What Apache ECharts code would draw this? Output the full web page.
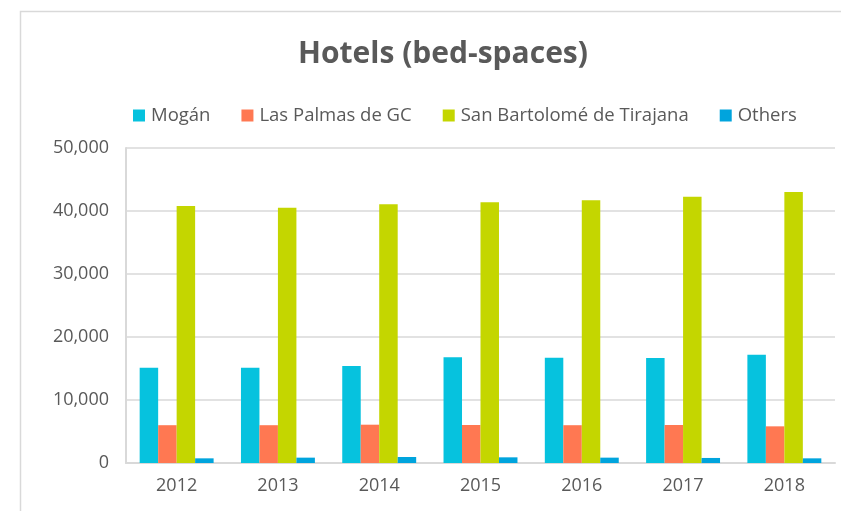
<!DOCTYPE html>
<html>
<head>
<meta charset="utf-8">
<script src="https://cdn.jsdelivr.net/npm/echarts@6/dist/echarts.min.js"></script>
<style>html,body{margin:0;padding:0;background:#fff}#c{width:841px;height:511px}</style>
</head>
<body>
<div id="c"></div>
<script>
const categories = ['2012','2013','2014','2015','2016','2017','2018'];
const mogan = [15100, 15100, 15400, 16780, 16720, 16670, 17200];
const lasPalmas = [6000, 6000, 6080, 6030, 6000, 6030, 5820];
const sanBartolome = [40800, 40500, 41070, 41390, 41700, 42270, 43000];
const others = [740, 850, 950, 900, 850, 800, 740];
const seriesNames = ['Mogán', 'Las Palmas de GC', 'San Bartolomé de Tirajana', 'Others'];
const yTicks = [0, 10000, 20000, 30000, 40000, 50000];

const colors = ['#06C2DE', '#FF7852', '#C4D600', '#00A4DD'];
const font = '"Open Sans", sans-serif';
const txt = '#595959';
const chart = echarts.init(document.getElementById('c'), null, {renderer: 'canvas'});
const dataSets = [mogan, lasPalmas, sanBartolome, others];
chart.setOption({
  animation: false,
  color: colors,
  graphic: [{
    type: 'rect', left: 18, top: 9, shape: {width: 900, height: 600},
    style: {fill: 'none', stroke: '#d9d9d9', lineWidth: 1.5}, silent: true, z: -1
  }],
  title: {
    text: 'Hotels (bed-spaces)', left: 438, textAlign: 'center', top: 34,
    textStyle: {fontFamily: font, fontWeight: 'bold', fontSize: 30, color: txt}
  },
  legend: {
    top: 101, left: 128, itemWidth: 12, itemHeight: 12, itemGap: 31,
    icon: 'rect',
    textStyle: {fontFamily: font, fontSize: 18.5, color: txt, padding: [0,0,0,1]},
    data: seriesNames
  },
  grid: {left: 126, right: 6, top: 148, bottom: 48, containLabel: false},
  xAxis: {
    type: 'category', data: categories,
    axisLine: {lineStyle: {color: '#d9d9d9', width: 2}},
    axisTick: {show: false},
    axisLabel: {fontFamily: font, fontSize: 18, color: txt, margin: 14}
  },
  yAxis: {
    type: 'value', min: yTicks[0], max: yTicks[yTicks.length-1], interval: 10000,
    axisLine: {show: true, lineStyle: {color: '#d9d9d9', width: 2}},
    axisTick: {show: false},
    splitLine: {lineStyle: {color: '#d9d9d9', width: 1.5}},
    axisLabel: {fontFamily: font, fontSize: 18, color: txt, margin: 17,
      formatter: v => v.toLocaleString('en-US')}
  },
  series: seriesNames.map((n, i) => ({
    name: n, type: 'bar', data: dataSets[i],
    barGap: '0%', barCategoryGap: '27%',
    itemStyle: {color: colors[i]}
  }))
});
</script>
</body>
</html>
